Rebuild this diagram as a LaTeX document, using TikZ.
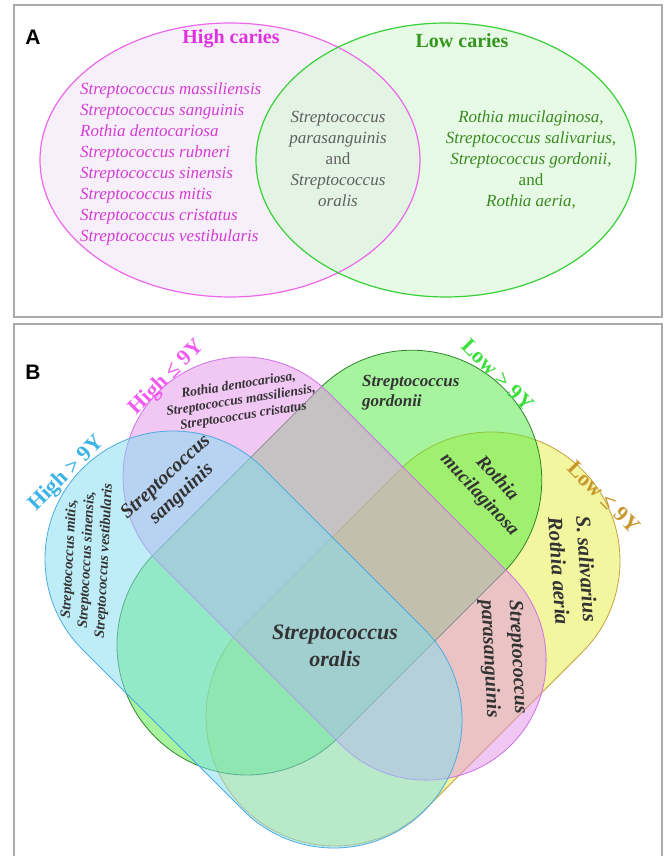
\documentclass[tikz,border=0pt]{standalone}
\usepackage{fontspec}
\setmainfont{Liberation Serif}
\newfontfamily\panelfont{Liberation Sans}
\definecolor{framegray}{RGB}{170,170,170}
\definecolor{pinkA}{RGB}{238,102,238}
\definecolor{pinkAfill}{RGB}{247,240,250}
\definecolor{greenA}{RGB}{55,208,55}
\definecolor{greenAfill}{RGB}{214,247,214}
\definecolor{pinkTxt}{RGB}{212,60,212}
\definecolor{highTxt}{RGB}{222,50,222}
\definecolor{grayTxt}{RGB}{95,95,95}
\definecolor{greenTxt}{RGB}{58,138,32}
\definecolor{lowTxt}{RGB}{52,150,30}
\definecolor{yBase}{RGB}{229,239,65}
\definecolor{gBase}{RGB}{81,235,65}
\definecolor{pBase}{RGB}{229,145,233}
\definecolor{bBase}{RGB}{129,221,241}
\definecolor{yLine}{RGB}{200,160,64}
\definecolor{gLine}{RGB}{46,130,46}
\definecolor{pLine}{RGB}{208,112,232}
\definecolor{bLine}{RGB}{74,172,224}
\definecolor{hiGT}{RGB}{60,180,230}
\definecolor{hiLE}{RGB}{240,92,240}
\definecolor{loGT}{RGB}{60,224,60}
\definecolor{loLE}{RGB}{200,152,46}
\definecolor{darkTxt}{RGB}{51,51,51}
\newcommand\stadium[6]{%
  \begin{scope}[shift={(#1,#2)},rotate=#3]
  \path[#6] (0,-#5) -- (#4,-#5) arc[start angle=-90,end angle=90,radius=#5]
     -- (0,#5) arc[start angle=90,end angle=270,radius=#5] -- cycle;
  \end{scope}}
\tikzset{
  frameline/.style={draw=framegray,line width=1.3pt},
  setfill/.style={fill=#1,fill opacity=0.5,line width=0.8pt},
  listA/.style={font=\fontsize{17}{21}\selectfont\itshape,inner sep=0pt},
  headA/.style={font=\fontsize{20}{24}\selectfont\bfseries,inner sep=0pt},
  grp/.style={font=\fontsize{22}{26}\selectfont\bfseries,inner sep=0pt},
  spB/.style n args={2}{font=\fontsize{#1}{#2}\selectfont\bfseries\itshape,text=darkTxt,align=center,inner sep=0pt},
  panellabel/.style={font=\panelfont\fontsize{21}{24}\selectfont\bfseries,inner sep=0pt}
}
\begin{document}
\begin{tikzpicture}[x=1pt,y=1pt]
\useasboundingbox (0,0) rectangle (665,856);
\fill[white] (0,0) rectangle (665,856);
% ---------------- Panel A ----------------
\draw[frameline] (14,851) rectangle (662,539);
\node[panellabel] (labA) at (33,819) {A};
\fill[pinkAfill] (230,696) ellipse[x radius=190,y radius=137];
\fill[greenAfill,fill opacity=0.6] (446,696) ellipse[x radius=190,y radius=137];
\draw[pinkA,line width=1.2pt] (230,696) ellipse[x radius=190,y radius=137];
\draw[greenA,line width=1.2pt] (446,696) ellipse[x radius=190,y radius=137];
\node[headA,text=highTxt] (hc) at (231,817) {High caries};
\node[headA,text=lowTxt] (lc) at (462,815) {Low caries};
\node[listA,text=pinkTxt,align=left,anchor=west] (hl) at (80,692)
  {Streptococcus massiliensis\\Streptococcus sanguinis\\Rothia dentocariosa\\Streptococcus rubneri\\Streptococcus sinensis\\Streptococcus mitis\\Streptococcus cristatus\\Streptococcus vestibularis};
\node[listA,text=grayTxt,align=center] (ml) at (338,697)
  {Streptococcus\\parasanguinis\\\upshape and\\Streptococcus\\oralis};
\node[listA,text=greenTxt,align=center] (ll) at (531,696)
  {Rothia mucilaginosa,\\Streptococcus salivarius,\\Streptococcus gordonii,\\\upshape and\\Rothia aeria,};
% ---------------- Panel B ----------------
\draw[frameline] (14,-5) -- (14,532) -- (662,532) -- (662,-5);
\node[panellabel] (labB) at (33,484) {B};
\stadium{335}{139}{45}{220.6}{129}{setfill=yBase,draw=yLine}
\stadium{247}{211}{45}{233}{130}{setfill=gBase,draw=gLine}
\stadium{243}{379}{-45}{259}{120}{setfill=pBase,draw=pLine}
\stadium{173}{297}{-45}{227.7}{128}{setfill=bBase,draw=bLine}
% group labels
\node[grp,text=hiGT,rotate=45] (g1) at (67,382) {High > 9Y};
\node[grp,text=hiLE,rotate=45] (g2) at (167,478) {High ≤ 9Y};
\node[grp,text=loGT,rotate=-45] (g3) at (498,481) {Low > 9Y};
\node[grp,text=loLE,rotate=-45] (g4) at (604,359) {Low ≤ 9Y};
% species
\node[spB={13.5}{15.5},rotate=9] (s1) at (241,455) {Rothia dentocariosa,\\Streptococcus massiliensis,\\Streptococcus cristatus};
\node[spB={20}{23},rotate=43] (s2) at (174,370) {Streptococcus\\sanguinis};
\node[spB={17}{20},align=left,anchor=west] (s3) at (362,463) {Streptococcus\\gordonii};
\node[spB={19}{24},rotate=-47] (s4) at (488,369) {Rothia\\mucilaginosa};
\node[spB={21}{28},rotate=-86] (s5) at (573,286) {S. salivarius\\Rothia aeria};
\node[spB={20}{28},rotate=-87] (s6) at (503,198) {Streptococcus\\parasanguinis};
\node[spB={22}{27},] (s7) at (335,210) {Streptococcus\\oralis};
\node[spB={14.5}{17.5},rotate=87] (s8) at (87,296) {Streptococcus mitis,\\Streptococcus sinensis,\\Streptococcus vestibularis};
\end{tikzpicture}
\end{document}
